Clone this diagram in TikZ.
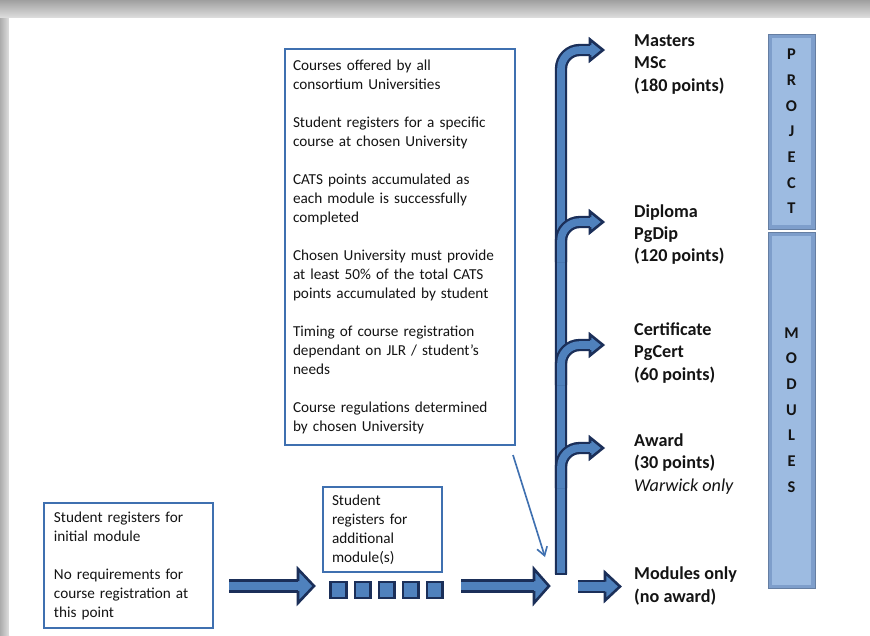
\documentclass[tikz,border=0pt]{standalone}
\usepackage{fontspec}
\setmainfont{Carlito}
\usetikzlibrary{arrows.meta,positioning}

\definecolor{boxblue}{HTML}{3F70B0}
\definecolor{arrfill}{HTML}{4F81BD}
\definecolor{arrnavy}{HTML}{1B2F59}
\definecolor{barface}{HTML}{9DBBE1}
\definecolor{baredge}{HTML}{7E9ECB}
\definecolor{inktext}{HTML}{141414}

\newcommand{\paragap}{\\[16.2pt]}

\tikzset{
  infobox/.style={draw=boxblue, line width=1.7pt, fill=white, align=left,
    anchor=north west, text=inktext, font=\fontsize{13}{16.2}\selectfont},
  award/.style={anchor=west, align=left, inner sep=0pt, text=inktext,
    font=\fontsize{15.5}{19.1}\selectfont\bfseries},
  flowshaft/.style={draw=arrnavy, line width=2.2pt, double=arrfill, double distance=7.5pt},
  branchshaft/.style={draw=arrnavy, line width=2pt, double=arrfill, double distance=6.5pt,
    rounded corners=16pt},
  modsq/.style={draw=arrnavy, line width=2pt, fill=arrfill, minimum width=0.47cm,
    minimum height=0.49cm, inner sep=0pt},
  barbox/.style={fill=baredge, draw=baredge!80!black, line width=0.6pt, minimum width=1.41cm,
    inner sep=0pt, align=center, text=inktext, font=\fontsize{14}{21.9}\selectfont\bfseries,
    path picture={\fill[barface] ([xshift=3pt,yshift=-3pt]path picture bounding box.north west)
      rectangle ([xshift=-3pt,yshift=3pt]path picture bounding box.south east);}},
  pics/arrhead/.style 2 args={code={
    \fill[arrfill] (0,-#1) -- (#2,0) -- (0,#1) -- cycle;
    \draw[arrnavy, line width=2.2pt, line join=miter] (0,-5) -- (0,-#1) -- (#2,0) -- (0,#1) -- (0,5);
  }},
  hint/.style={draw=boxblue, line width=1.4pt, -{Straight Barb[length=7pt,width=9pt]}}
}

\begin{document}
\begin{tikzpicture}[x=0.03cm, y=-0.03cm, node distance=0.72cm, on grid]
\useasboundingbox (0,0) rectangle (870,635);
% frame
\fill[white] (0,0) rectangle (870,635);
\shade[top color=gray!75, bottom color=gray!25] (0,0) rectangle (870,18);
\shade[left color=gray!65, right color=gray!25] (0,18) rectangle (9,635);
\fill[white] (9,18) rectangle (870,635);

% text boxes
\node[infobox, text width=4.47cm, inner xsep=0.3cm, minimum height=3.75cm] (initial) at (43,502)
  {Student registers for\\ initial module\paragap No requirements for\\ course registration at\\ this point};
\node[infobox, text width=3.03cm, inner xsep=0.27cm, minimum height=2.55cm] (additional) at (322,486)
  {Student\\ registers for\\ additional\\ module(s)};
\node[infobox, text width=6.42cm, inner xsep=0.24cm, minimum height=11.88cm] (courses) at (284,48)
  {Courses offered by all\\ consortium Universities\paragap
   Student registers for a specific\\ course at chosen University\paragap
   CATS points accumulated as\\ each module is successfully\\ completed\paragap
   Chosen University must provide\\ at least 50\% of the total CATS\\ points accumulated by student\paragap
   Timing of course registration\\ dependant on JLR / student’s\\ needs\paragap
   Course regulations determined\\ by chosen University};

% modules
\node[modsq] (m1) at (338.5,590) {};
\node[modsq] (m2) [right=of m1] {};
\node[modsq] (m3) [right=of m2] {};
\node[modsq] (m4) [right=of m3] {};
\node[modsq] (m5) [right=of m4] {};

% flow arrows
\coordinate (a1s) at (229,586);
\coordinate (a1e) at (298,586);
\coordinate (a2s) at (461,586);
\coordinate (a2e) at (534,586);
\coordinate (a3s) at (578,586.5);
\coordinate (a3e) at (605,586.5);
\draw[flowshaft] (a1s) -- (a1e);
\pic at (a1e) {arrhead={17}{16}};
\draw[flowshaft] (a2s) -- (a2e);
\pic at (a2e) {arrhead={17}{15}};
\draw[flowshaft] (a3s) -- (a3e);
\pic at (a3e) {arrhead={14}{15}};

% trunk and branches
\draw[branchshaft] (561,574) -- (561,50) -- (590,50);
\draw[arrnavy, line width=2pt] (554.8,574) -- (567.2,574);
\pic at (590,50) {arrhead={10.5}{13}};
\draw[branchshaft] (561,262) -- (561,222) -- (590,222);
\pic at (590,222) {arrhead={10.5}{13}};
\draw[branchshaft] (561,385) -- (561,345) -- (590,345);
\pic at (590,345) {arrhead={10.5}{13}};
\draw[branchshaft] (561,488) -- (561,448) -- (590,448);
\pic at (590,448) {arrhead={10.5}{13}};

\coordinate (hintA) at (513,455);
\coordinate (hintB) at (545,557);
\draw[hint] (hintA) -- (hintB);

% awards
\node[award] (masters) at (634,64.5) {Masters\\ MSc\\ (180 points)};
\node[award] (diploma) at (634,234.5) {Diploma\\ PgDip\\ (120 points)};
\node[award] (cert) at (634,353) {Certificate\\ PgCert\\ (60 points)};
\node[award] (awd) at (634,464) {Award\\ (30 points)\\ \textit{\mdseries Warwick only}};
\node[award] (only) at (634,586) {Modules only\\ (no award)};

% bars
\node[barbox, minimum height=5.85cm] (project) at (791.5,131.5) {P\\R\\O\\J\\E\\C\\T};
\node[barbox, minimum height=10.68cm] (modules) at (791.5,410) {M\\O\\D\\U\\L\\E\\S};
\end{tikzpicture}
\end{document}
